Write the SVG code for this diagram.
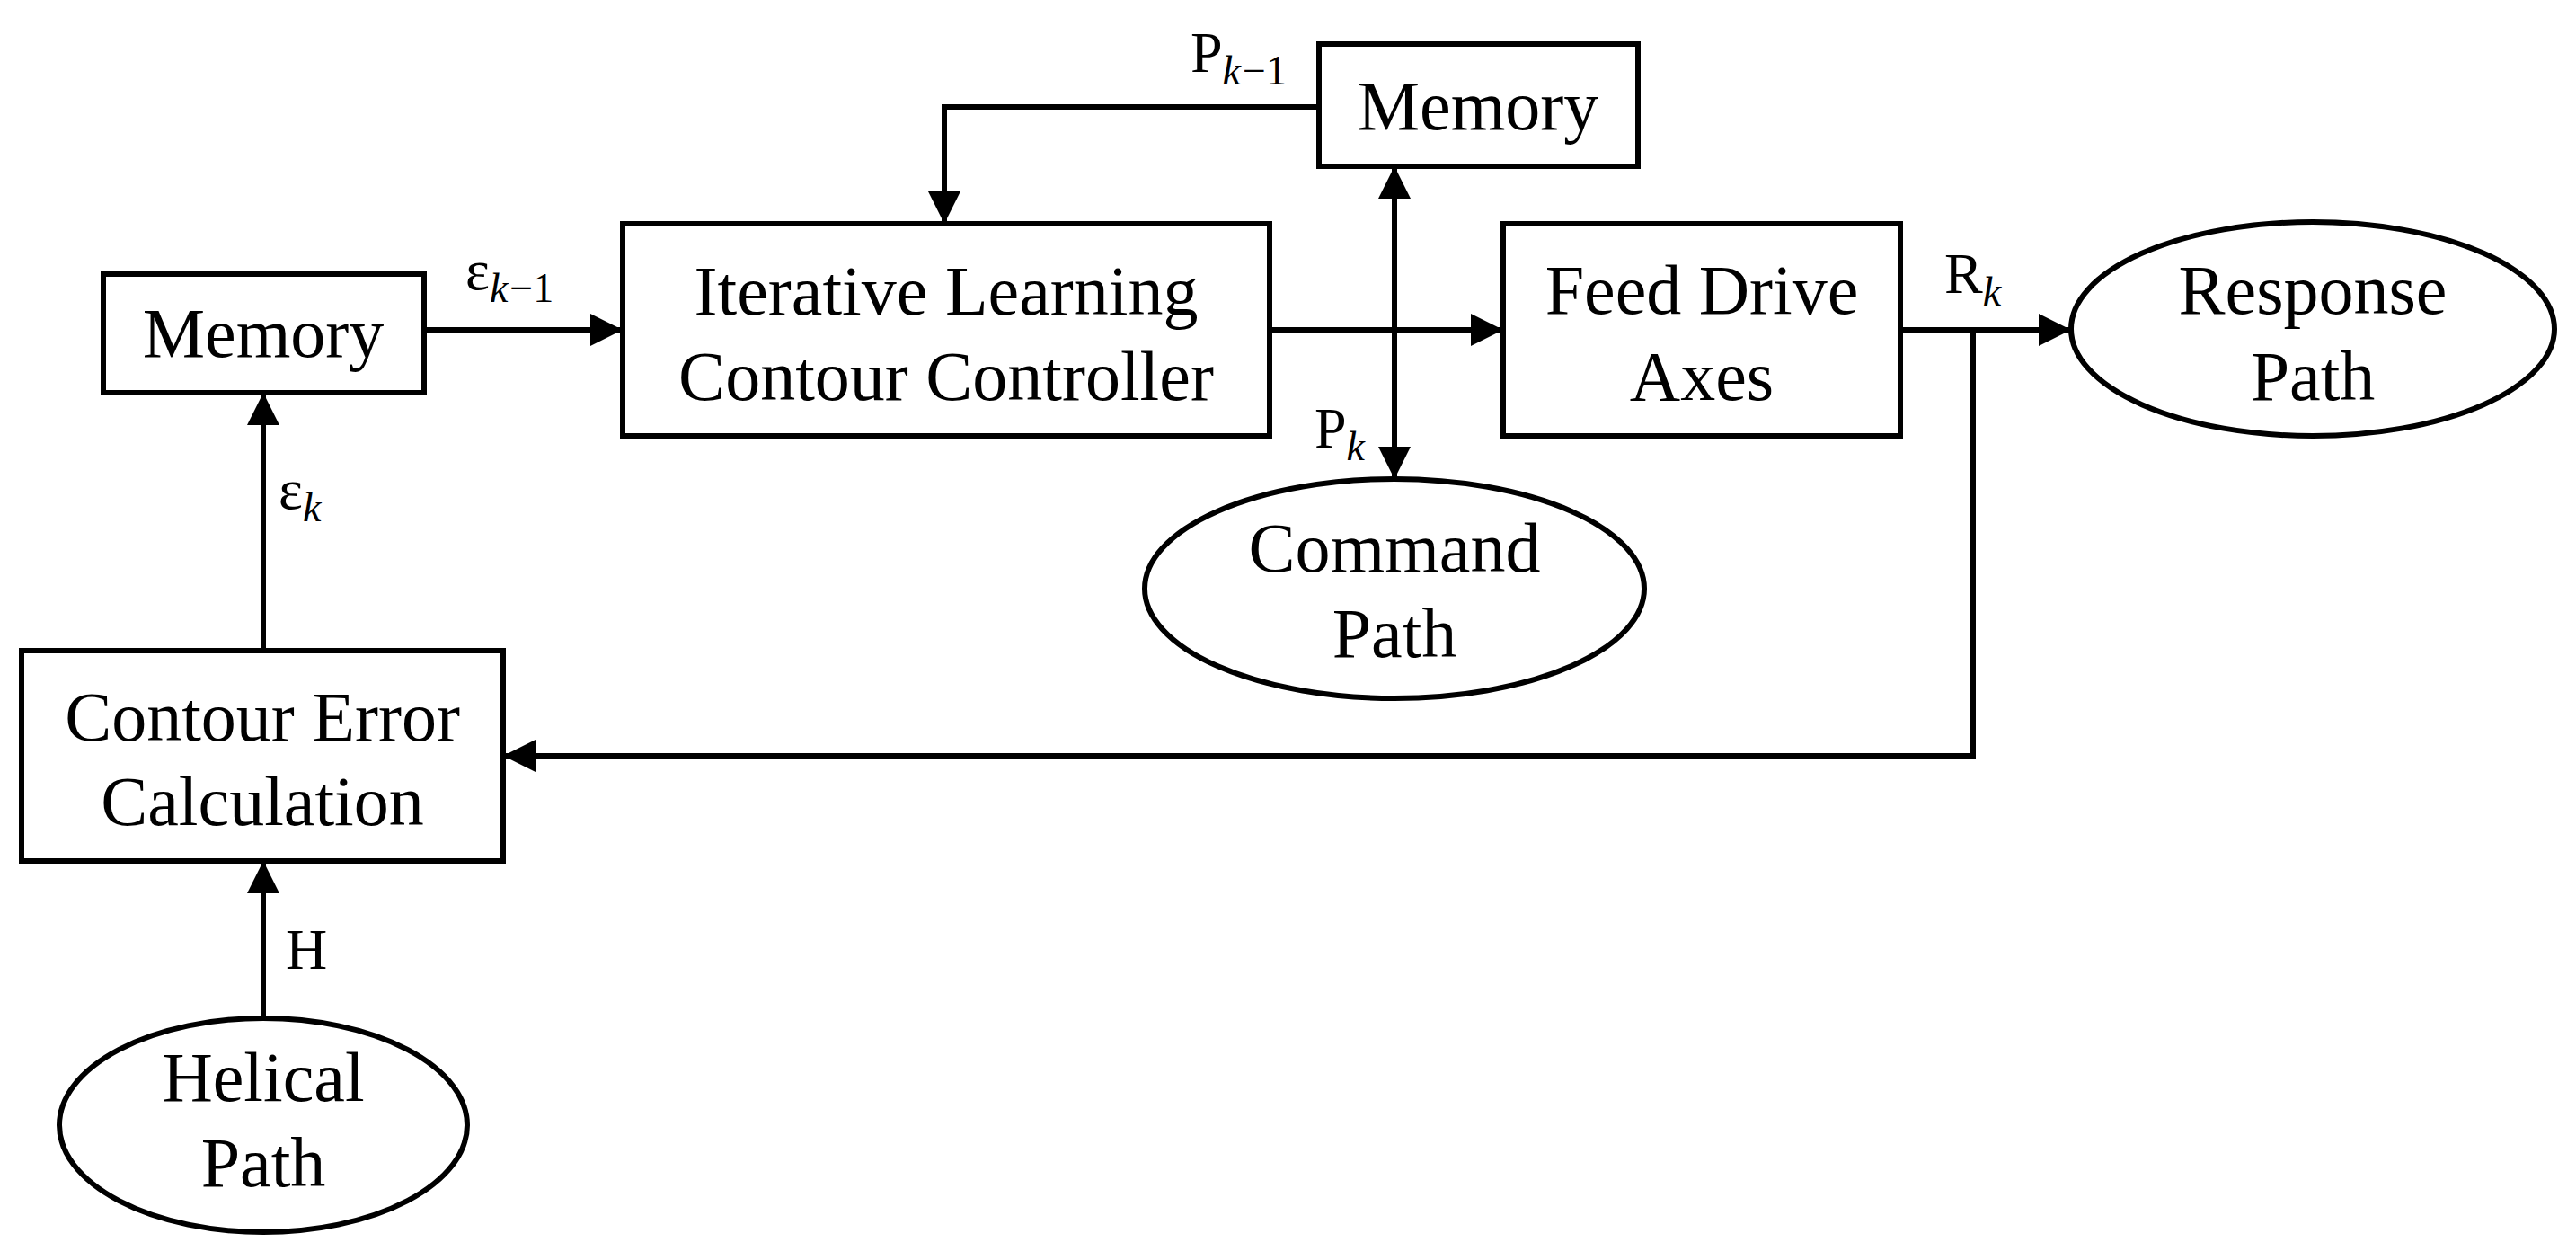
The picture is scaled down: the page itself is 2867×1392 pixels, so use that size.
<svg xmlns="http://www.w3.org/2000/svg" width="2867" height="1392" viewBox="0 0 2867 1392">
<style>
.b{fill:#fff;stroke:#000;stroke-width:6}
.t{font-family:"Liberation Serif",serif;font-size:78px;text-anchor:middle;fill:#000}
.l{font-family:"Liberation Serif",serif;font-size:64px;fill:#000}
.s{font-style:italic;font-size:46px}
.c{fill:none;stroke:#000;stroke-width:6}
</style>
<defs>
<marker id="a" viewBox="0 0 10 10" refX="10" refY="5" markerWidth="6.5" markerHeight="6" markerUnits="strokeWidth" orient="auto-start-reverse"><path d="M0,0L10,5L0,10z"/></marker>
</defs>
<rect width="2867" height="1392" fill="#fff"/>
<g id="connectors">
<path class="c" d="M472,367H693" marker-end="url(#a)"/>
<path class="c" d="M293,724V437" marker-end="url(#a)"/>
<path class="c" d="M293,1133V958" marker-end="url(#a)"/>
<path class="c" d="M1413,367H1673" marker-end="url(#a)"/>
<path class="c" d="M1552,185V533" marker-start="url(#a)" marker-end="url(#a)"/>
<path class="c" d="M1468,119H1051V249" marker-end="url(#a)"/>
<path class="c" d="M2115,367H2305" marker-end="url(#a)"/>
<path class="c" d="M2196,367V841H560" marker-end="url(#a)"/>
</g>
<g id="labels">
<text class="l" x="518" y="322">ε<tspan class="s" dy="14">k</tspan><tspan font-size="46" dx="2">−1</tspan></text>
<text class="l" x="310" y="566">ε<tspan class="s" dy="14">k</tspan></text>
<text class="l" x="318" y="1078">H</text>
<text class="l" x="1325" y="80">P<tspan class="s" dy="14">k</tspan><tspan font-size="46" dx="2">−1</tspan></text>
<text class="l" x="1463" y="498">P<tspan class="s" dy="14">k</tspan></text>
<text class="l" x="2164" y="326">R<tspan class="s" dy="14">k</tspan></text>
</g>
<g id="memL"><rect class="b" x="115" y="305" width="357" height="132"/><text class="t" x="293" y="397">Memory</text></g>
<g id="ilc"><rect class="b" x="693" y="249" width="720" height="236"/><text class="t" x="1053" y="350">Iterative Learning</text><text class="t" x="1053" y="445">Contour Controller</text></g>
<g id="memT"><rect class="b" x="1468" y="49" width="355" height="136"/><text class="t" x="1645" y="144">Memory</text></g>
<g id="fda"><rect class="b" x="1673" y="249" width="442" height="236"/><text class="t" x="1894" y="349">Feed Drive</text><text class="t" x="1894" y="445">Axes</text></g>
<g id="resp"><ellipse class="b" cx="2574" cy="366" rx="269" ry="119"/><text class="t" x="2574" y="349">Response</text><text class="t" x="2574" y="445">Path</text></g>
<g id="cmd"><ellipse class="b" cx="1552" cy="655" rx="278" ry="122"/><text class="t" x="1552" y="636">Command</text><text class="t" x="1552" y="731">Path</text></g>
<g id="cec"><rect class="b" x="24" y="724" width="536" height="234"/><text class="t" x="292" y="824">Contour Error</text><text class="t" x="292" y="918">Calculation</text></g>
<g id="hel"><ellipse class="b" cx="293" cy="1252" rx="227" ry="119"/><text class="t" x="293" y="1225">Helical</text><text class="t" x="293" y="1320">Path</text></g>
</svg>
